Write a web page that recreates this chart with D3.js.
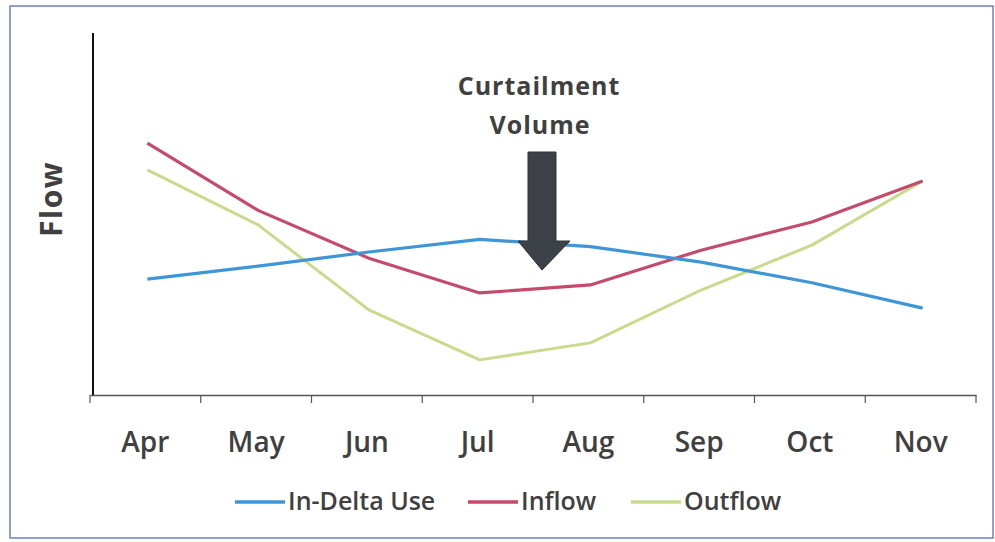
<!DOCTYPE html>
<html>
<head>
<meta charset="utf-8">
<script src="https://cdn.jsdelivr.net/npm/d3@7"></script>
<style>
  body { margin: 0; background: #fff; }
  text { font-family: "Open Sans", "DejaVu Sans", sans-serif; fill: #404040; }
</style>
</head>
<body>
<div id="chart"></div>
<script>
// Chart data
const months = ["Apr", "May", "Jun", "Jul", "Aug", "Sep", "Oct", "Nov"];
const inDeltaUse = [32, 35.6, 39.5, 43, 41, 36.7, 31, 24];
const inflow = [69.6, 51, 37.8, 28.2, 30.4, 40, 47.8, 59.1];
const outflow = [62.2, 47, 23.5, 9.7, 14.4, 29, 41.4, 59.1];
const seriesNames = ["In-Delta Use", "Inflow", "Outflow"];
const seriesColors = ["#3f96d6", "#c44b6c", "#c8db8c"];

const W = 995, H = 542;
const margin = {top: 33, right: 19, bottom: 147, left: 90},
    width = W - margin.left - margin.right,
    height = H - margin.top - margin.bottom;

const svg = d3.select("#chart")
    .append("svg")
    .attr("width", W)
    .attr("height", H);

// scanned frame
svg.append("rect")
    .attr("x", 10).attr("y", 6)
    .attr("width", 983).attr("height", 532)
    .attr("fill", "none")
    .attr("stroke", "#6f7fc4")
    .attr("stroke-width", 1.5);

const g = svg.append("g")
    .attr("transform", `translate(${margin.left}, ${margin.top})`);

// X axis
const x = d3.scaleBand()
    .domain(months)
    .range([0, width]);

const y = d3.scaleLinear()
    .domain([0, 100])
    .range([height, 0]);

const xAxis = g.append("g")
    .attr("transform", `translate(0, ${height})`)
    .call(d3.axisBottom(x).tickSize(0).tickPadding(37));
xAxis.select(".domain").attr("stroke", "#555").attr("stroke-width", 1.5);
xAxis.selectAll("text")
    .style("font-size", "28px")
    .style("font-weight", 600)
    .attr("fill", "#404040");

// ticks between categories
g.append("g")
    .selectAll("line")
    .data(months.concat(["end"]))
    .join("line")
    .attr("x1", (d, i) => i * x.bandwidth())
    .attr("x2", (d, i) => i * x.bandwidth())
    .attr("y1", height)
    .attr("y2", height + 8)
    .attr("stroke", "#555")
    .attr("stroke-width", 1.2);

// Y axis (line only)
g.append("line")
    .attr("x1", 3).attr("x2", 3)
    .attr("y1", 0).attr("y2", height)
    .attr("stroke", "#111")
    .attr("stroke-width", 2);

// Y title
svg.append("text")
    .attr("transform", "translate(62, 199) rotate(-90)")
    .attr("text-anchor", "middle")
    .style("font-size", "30px")
    .style("font-weight", 700)
    .style("letter-spacing", "1.5px")
    .text("Flow");

// Lines
const allSeries = [inDeltaUse, inflow, outflow];
const line = d3.line()
    .x((d, i) => x(months[i]) + x.bandwidth() / 2 + 2)
    .y(d => y(d));

// outflow drawn first so the others sit on top
[2, 1, 0].forEach(k => {
    g.append("path")
        .datum(allSeries[k])
        .attr("fill", "none")
        .attr("stroke", seriesColors[k])
        .attr("stroke-width", k === 2 ? 3 : 3.2)
        .attr("stroke-linejoin", "round")
        .attr("d", line);
});

// Curtailment arrow
const ax = x("Jul") + x.bandwidth() + 9;
const arrow = d3.path();
arrow.moveTo(ax - 14, 152);
arrow.lineTo(ax + 14, 152);
arrow.lineTo(ax + 14, 241);
arrow.lineTo(ax + 28, 241);
arrow.lineTo(ax, 270);
arrow.lineTo(ax - 24, 241);
arrow.lineTo(ax - 14, 241);
arrow.closePath();
svg.append("path")
    .attr("transform", `translate(${margin.left}, 0)`)
    .attr("d", arrow.toString())
    .attr("fill", "#3c4247")
    .attr("stroke", "#2e3338")
    .attr("stroke-width", 1);

svg.append("text")
    .attr("x", 539).attr("y", 95)
    .attr("text-anchor", "middle")
    .style("font-size", "25px")
    .style("font-weight", 700)
    .style("letter-spacing", "1px")
    .text("Curtailment");
svg.append("text")
    .attr("x", 540).attr("y", 134)
    .attr("text-anchor", "middle")
    .style("font-size", "25px")
    .style("font-weight", 700)
    .style("letter-spacing", "1px")
    .text("Volume");

// Legend
const legendX = [235, 468, 631];
const legend = svg.append("g");
seriesNames.forEach((name, i) => {
    legend.append("line")
        .attr("x1", legendX[i]).attr("x2", legendX[i] + 50)
        .attr("y1", 502).attr("y2", 502)
        .attr("stroke", seriesColors[i])
        .attr("stroke-width", 3.5);
    legend.append("text")
        .attr("x", legendX[i] + 53)
        .attr("y", 510)
        .style("font-size", "25px")
        .style("font-weight", 600)
        .text(name);
});
</script>
</body>
</html>
